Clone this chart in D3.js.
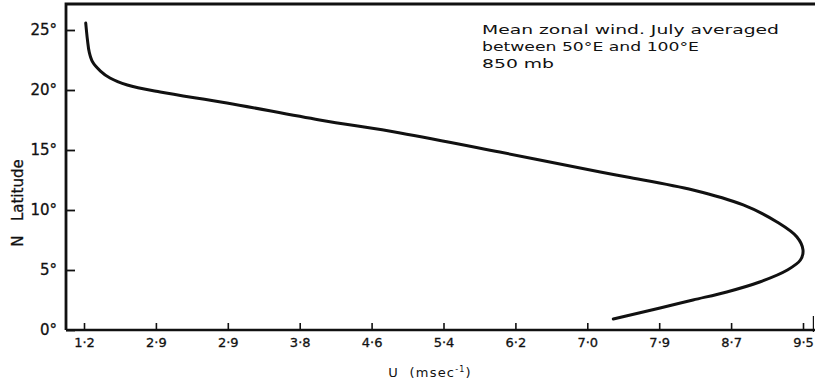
<!DOCTYPE html>
<html>
<head>
<meta charset="utf-8">
<script src="https://cdn.jsdelivr.net/npm/d3@7"></script>
<style>
html,body{margin:0;padding:0;background:#fff;}
svg{display:block;}
text{font-family:"DejaVu Sans",sans-serif;fill:#111;}
</style>
</head>
<body>
<svg id="chart" width="815" height="384"></svg>
<script>
// Data
const latitude = [25.58, 24.17, 23.17, 22.33, 21.58, 21.0, 20.42, 19.83, 18.92, 17.5, 16.42, 14.83, 13.17, 12.75, 11.67, 10.42, 9.0, 7.75, 6.67, 5.83, 5.0, 4.0, 3.17, 2.5, 1.83, 0.92];
const windU    = [1.22, 1.24, 1.26, 1.30, 1.39, 1.50, 1.70, 2.08, 2.85, 3.92, 4.85, 6.00, 7.16, 7.47, 8.23, 8.81, 9.20, 9.43, 9.50, 9.47, 9.32, 9.00, 8.62, 8.23, 7.85, 7.31];
const xTickValues = [1.2, 2.03, 2.86, 3.69, 4.52, 5.35, 6.18, 7.01, 7.84, 8.67, 9.5];
const xTickLabels = ["1·2", "2·9", "2·9", "3·8", "4·6", "5·4", "6·2", "7·0", "7·9", "8·7", "9·5"];
const yTickValues = [0, 5, 10, 15, 20, 25];
const yTickLabels = ["0°", "5°", "10°", "15°", "20°", "25°"];
const titleLines = ["Mean zonal wind. July averaged", "between 50°E and 100°E", "850 mb"];
const titleWidths = [297, 217, 72];

const svg = d3.select("#chart");
const x = d3.scaleLinear().domain([1.2, 9.5]).range([84, 803]);
const y = d3.scaleLinear().domain([0, 25]).range([330, 30]);
const xLeft = x.invert(66), xRight = x.invert(815), yTop = y.invert(4);

// frame: left axis and top line
svg.append("path")
  .attr("d", `M${x(xLeft)},${y(0)} L${x(xLeft)},${y(yTop)} L${x(xRight)},${y(yTop)}`)
  .attr("fill", "none").attr("stroke", "#111").attr("stroke-width", 2.8);

// bottom axis
const xAxis = d3.axisBottom(x).tickValues(xTickValues)
  .tickFormat((d, i) => xTickLabels[i]).tickSize(-7).tickSizeOuter(0).tickPadding(8);
const gx = svg.append("g").attr("transform", `translate(0,${y(0)})`).call(xAxis);
gx.select(".domain").attr("d", `M${x(xLeft)},0H${x(xRight)}`).attr("stroke", "#111").attr("stroke-width", 2.4);
gx.selectAll(".tick line").attr("stroke", "#111").attr("stroke-width", 1.6);
gx.selectAll(".tick text").attr("font-size", 13).attr("fill", "#111").attr("stroke", "#111").attr("stroke-width", 0.3);
// short right end mark
svg.append("line").attr("x1", x(9.62)).attr("x2", x(9.62)).attr("y1", y(0) - 14).attr("y2", y(0) + 2)
  .attr("stroke", "#111").attr("stroke-width", 1.2);

// left axis
const yAxis = d3.axisLeft(y).tickValues(yTickValues)
  .tickFormat((d, i) => yTickLabels[i]).tickSize(-9).tickSizeOuter(0).tickPadding(9);
const gy = svg.append("g").attr("transform", `translate(${x(xLeft)},0)`).call(yAxis);
gy.select(".domain").remove();
gy.selectAll(".tick line").attr("stroke", "#111").attr("stroke-width", 1.8);
gy.selectAll(".tick text").attr("font-size", 15).attr("fill", "#111").attr("stroke", "#111").attr("stroke-width", 0.3);

// curve
const line = d3.line().x((d, i) => x(windU[i])).y((d, i) => y(latitude[i])).curve(d3.curveCatmullRom.alpha(0.5));
svg.append("path").datum(latitude).attr("d", line)
  .attr("fill", "none").attr("stroke", "#111").attr("stroke-width", 3).attr("stroke-linecap", "round");

// axis titles
svg.append("text").attr("x", 430).attr("y", 377).attr("text-anchor", "middle")
  .attr("font-size", 13).attr("letter-spacing", 1.2)
  .html('U&#160;&#160;(msec<tspan dy="-5" font-size="8">-1</tspan><tspan dy="5">)</tspan>');
svg.append("text").attr("transform", "translate(23,203) rotate(-90)").attr("text-anchor", "middle")
  .attr("font-size", 15).attr("stroke", "#111").attr("stroke-width", 0.3).text("N\u00a0\u00a0\u00a0Latitude");

// annotation
const ann = svg.append("text").attr("x", 482).attr("font-size", 13);
titleLines.forEach((t, i) => ann.append("tspan").attr("x", 482).attr("y", 34 + i * 17)
  .attr("textLength", titleWidths[i]).attr("lengthAdjust", "spacingAndGlyphs").text(t));
</script>
</body>
</html>
